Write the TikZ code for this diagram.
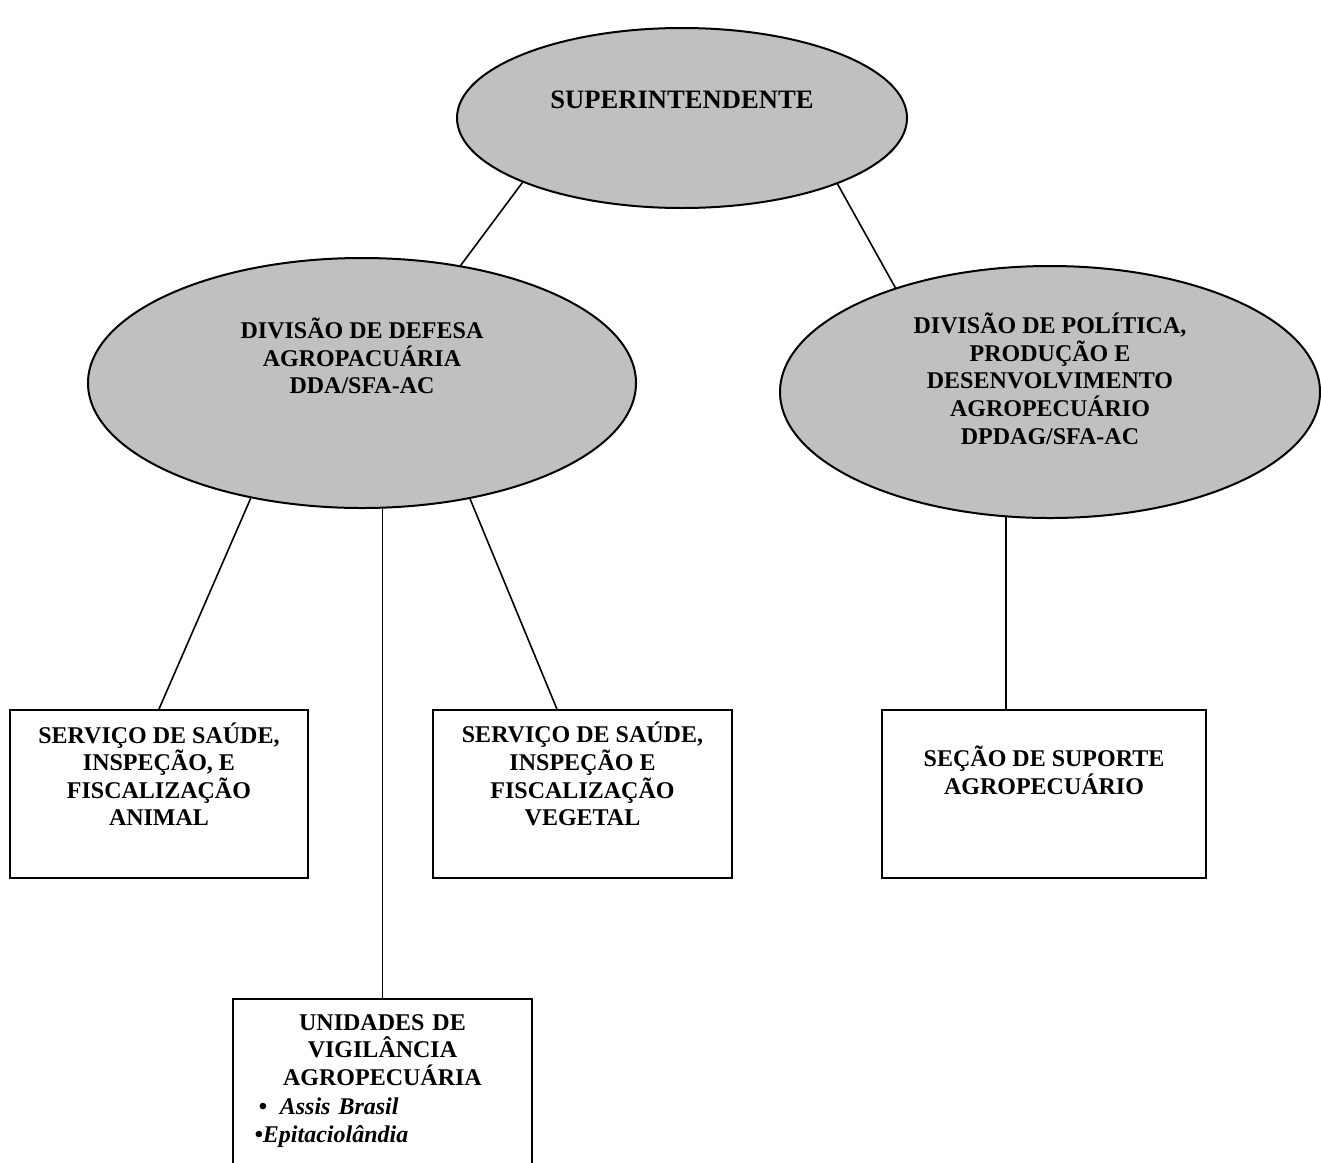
\documentclass[tikz,border=0pt]{standalone}
\usepackage{fontspec}
\setmainfont{Liberation Serif}
\usetikzlibrary{shapes.geometric}
\usetikzlibrary{calc}
\usetikzlibrary{backgrounds}
\definecolor{cinzaclaro}{RGB}{192,192,192}

\begin{document}
\begin{tikzpicture}[x=0.5pt,y=-0.5pt,
    elipse/.style={draw, ellipse, fill=cinzaclaro, line width=1pt, inner sep=0pt},
    caixa/.style={draw, rectangle, fill=white, line width=1pt, inner sep=0pt, minimum height=84pt},
    texto/.style={align=center, inner sep=0pt, font=\bfseries\fontsize{12}{13.8}\selectfont},
    ligacao/.style={line width=0.8pt}]
    \useasboundingbox (0,0) rectangle (1321,1162);

    % Superintendencia
    \node [elipse, minimum width=225pt, minimum height=90pt,
        label={[texto, font=\bfseries\fontsize{13.3}{15}\selectfont, yshift=9pt]center:{SUPERINTENDENTE}}] (sup) at (682,118) {};

    % Divisoes
    \node [elipse, minimum width=274pt, minimum height=125pt,
        label={[texto, yshift=13.5pt]center:{DIVISÃO DE DEFESA\\AGROPACUÁRIA\\DDA/SFA-AC}}] (dda) at (362,383) {};
    \node [elipse, minimum width=270pt, minimum height=126pt,
        label={[texto, yshift=6.6pt]center:{DIVISÃO DE POLÍTICA,\\PRODUÇÃO E\\DESENVOLVIMENTO\\AGROPECUÁRIO\\DPDAG/SFA-AC}}] (dpdag) at (1050,392) {};

    % Servicos e secao
    \node [caixa, minimum width=149pt,
        label={[texto, yshift=9.9pt]center:{SERVIÇO DE SAÚDE,\\INSPEÇÃO, E\\FISCALIZAÇÃO\\ANIMAL}}] (ssia) at (159,794) {};
    \node [caixa, minimum width=149.5pt,
        label={[texto, yshift=9.9pt]center:{SERVIÇO DE SAÚDE,\\INSPEÇÃO E\\FISCALIZAÇÃO\\VEGETAL}}] (ssiv) at (582.5,794) {};
    \node [caixa, minimum width=162pt,
        label={[texto, yshift=12pt]center:{SEÇÃO DE SUPORTE\\AGROPECUÁRIO}}] (ssa) at (1044,794) {};

    % Unidades
    \node [caixa, minimum width=149.5pt, minimum height=90.5pt,
        label={[texto, align=left, text width=128pt, anchor=north, yshift=-8pt]north:{%
            \setlength{\parindent}{0pt}%
            {\centering UNIDADES DE\\VIGILÂNCIA\\AGROPECUÁRIA\endgraf}%
            \fontsize{12}{14.5}\selectfont\itshape
            \noindent\hspace*{2pt}•\hspace{6.5pt}Assis Brasil\\
            •Epitaciolândia}}] (uva) at (382.5,1089.5) {};

    % Ligacoes
    \coordinate (kv) at ($(ssiv.north west)!0.415!(ssiv.north east)$);
    \coordinate (ka) at ($(ssa.north west)!0.383!(ssa.north east)$);
    \begin{scope}[on background layer]
        \draw [ligacao] (sup.-158) -- (dda.50);
        \draw [ligacao] (sup.-23) -- (dpdag.146);
        \draw [ligacao] (dda.-134) -- (ssia.north);
        \draw [ligacao] (dda.-47) -- (kv);
        \draw [ligacao] (uva.north) -- (uva.north |- dda.center);
        \draw [ligacao] (ka) -- (ka |- dpdag.center);
    \end{scope}
\end{tikzpicture}
\end{document}
